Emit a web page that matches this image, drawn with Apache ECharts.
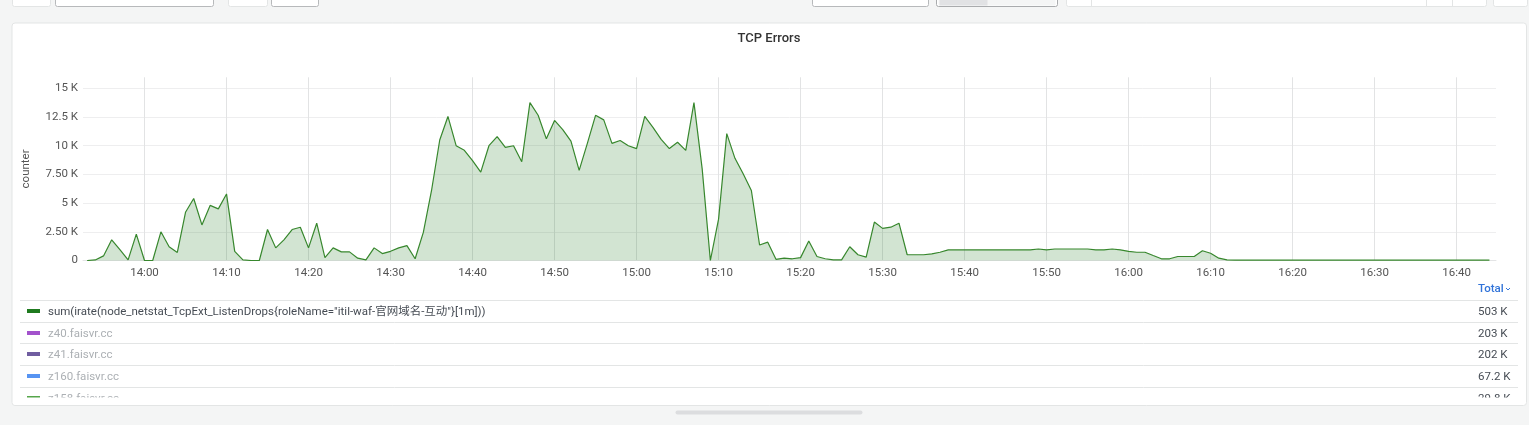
<!DOCTYPE html>
<html>
<head>
<meta charset="utf-8">
<style>html,body{margin:0;padding:0;background:#f4f5f5;overflow:hidden}#c{width:1529px;height:425px}</style>
<script src="https://cdn.jsdelivr.net/npm/echarts@6/dist/echarts.min.js"></script>
</head>
<body>
<div id="c"></div>
<script>
const startMinute = 13*60+53;
const values = [
  0,50,400,1800,950,50,2300,0,0,2500,1200,700,4200,5400,3100,4800,4500,5800,800,50,0,0,
  2700,1100,1800,2700,2900,1100,3250,250,1100,750,750,200,50,1100,600,800,1100,1300,150,
  2450,6100,10500,12550,10000,9600,8700,7700,10000,10800,9850,10000,8600,13750,12650,10600,
  12200,11400,10400,7850,10200,12650,12250,10200,10450,10000,9750,12550,11600,10550,9750,
  10300,9600,13750,8000,0,3600,11050,8900,7550,6100,1350,1600,100,200,150,250,1700,350,150,
  50,50,1200,500,300,3350,2800,2900,3250,500,500,500,580,720,920,920,920,920,920,920,920,
  920,920,930,930,1000,930,1000,1000,1000,1000,1000,930,930,1000,930,800,720,720,
  430,150,150,350,350,350,850,630,200,50,30,30,30,30,30,30,30,30,30,30,30,30,30,30,30,30,
  30,30,30,30,30,30,30,30,30,30,30,30,30,30,30,30
];
const xTickLabels = ['14:00','14:10','14:20','14:30','14:40','14:50','15:00','15:10','15:20','15:30','15:40','15:50','16:00','16:10','16:20','16:30','16:40'];
const yTickLabels = {0:'0',2500:'2.50 K',5000:'5 K',7500:'7.50 K',10000:'10 K',12500:'12.5 K',15000:'15 K'};
const legendNames = ['sum(irate(node_netstat_TcpExt_ListenDrops{roleName="itil-waf-官网域名-互动"}[1m]))','z40.faisvr.cc','z41.faisvr.cc','z160.faisvr.cc','z158.faisvr.cc'];
const legendTotals = ['503 K','203 K','202 K','67.2 K','29.8 K'];
const legendColors = ['#1f7a1f','#a352cc','#705da0','#5794f2','#56a64b'];
const legendText = ['#464c54','#acb0b4','#acb0b4','#acb0b4','#acb0b4'];

const FONT = 'Roboto, "Noto Sans CJK SC", sans-serif';
const rowLines = [300.5,322.5,343.5,365.5,387.5];
const rowCenters = [311,333,354,376,398];
const xTicks = xTickLabels.map(s=>{const p=s.split(':');return (+p[0])*60+(+p[1]);});

const graphic = [];
function box(x,y,w,h,fill,stroke,z,r){
  graphic.push({type:'rect',silent:true,z:z||0,shape:{x:x+.5,y:y+.5,width:w,height:h,r:r||0},style:{fill:fill,stroke:stroke||null,lineWidth:1}});
}
[[12,-4,38,10,'#e3e5e5'],[55,-4,158,10,'#b7b9bb'],[228,-4,39,10,'#e3e5e5'],[271,-4,47,10,'#b7b9bb'],[812,-4,116,10,'#b7b9bb'],[936,-4,121,10,'#a9abad'],[1066,-4,420,10,'#e3e5e5'],[1493,-4,34,10,'#e3e5e5']]
  .forEach(b=>box(b[0],b[1],b[2],b[3],'#fff',b[4],0,2));
box(938,-2,117,7,'#f4f5f5',null,1);
box(939,-2,48,7,'#e1e2e4',null,2);
[1091,1426,1452].forEach(x=>graphic.push({type:'line',silent:true,z:1,shape:{x1:x+.5,y1:0,x2:x+.5,y2:6},style:{stroke:'#e3e5e5',lineWidth:1}}));
box(11.5,22.5,1514.5,382.5,'#fff','#e3e5e5',0,3);
box(675,410,187,4,'#dcdddf',null,0,2);

legendNames.forEach((n,i)=>{
  graphic.push({type:'line',silent:true,z:5,shape:{x1:20,y1:rowLines[i],x2:1518,y2:rowLines[i]},style:{stroke:'#e3e5e5',lineWidth:1}});
  graphic.push({type:'rect',silent:true,z:5,shape:{x:27,y:rowCenters[i]-2,width:13,height:4},style:{fill:legendColors[i]}});
  graphic.push({type:'text',silent:true,z:5,x:48,y:rowCenters[i]+1,style:{text:n,fill:legendText[i],font:'11.5px '+FONT,textVerticalAlign:'middle'}});
  graphic.push({type:'text',silent:true,z:5,x:1478,y:rowCenters[i]+1,style:{text:legendTotals[i],fill:'#464c54',font:'11.5px '+FONT,textVerticalAlign:'middle'}});
});
graphic.push({type:'rect',silent:true,z:6,shape:{x:14,y:397.5,width:1510,height:7},style:{fill:'#fff'}});
graphic.push({type:'text',silent:true,z:5,x:1478,y:289,style:{text:'Total',fill:'#3274d9',font:'500 11.5px '+FONT,textVerticalAlign:'middle'}});
graphic.push({type:'polyline',silent:true,z:5,shape:{points:[[1506,288],[1508,290],[1510,288]]},style:{stroke:'#3274d9',lineWidth:1,fill:null}});

const chart = echarts.init(document.getElementById('c'),null,{renderer:'canvas'});
const pad = n=>String(n).padStart(2,'0');
chart.setOption({
  animation:false,
  backgroundColor:'transparent',
  textStyle:{fontFamily:FONT},
  title:{text:'TCP Errors',left:764,top:27,textAlign:'center',textStyle:{fontFamily:FONT,fontSize:13,fontWeight:500,color:'#333'}},
  grid:{left:83,top:77.3,width:1413,height:183.2,containLabel:false},
  xAxis:{
    type:'value',
    min:startMinute-0.5,
    max:startMinute+171.8,
    axisLine:{show:true,onZero:false,lineStyle:{color:'#e3e4e5',width:1}},
    axisTick:{show:false,customValues:xTicks},
    axisLabel:{customValues:xTicks,color:'#555',fontSize:11.5,fontFamily:FONT,margin:7,hideOverlap:false,
      formatter:v=>pad(Math.floor(v/60))+':'+pad(v%60)},
    splitLine:{show:true,lineStyle:{color:'#e2e3e4',width:1}}
  },
  yAxis:{
    type:'value',min:0,max:15960,interval:2500,
    name:'counter',nameLocation:'middle',nameGap:51,nameRotate:90,
    nameTextStyle:{color:'#555',fontSize:11.5,fontFamily:FONT},
    axisLine:{show:false},axisTick:{show:false},
    axisLabel:{color:'#555',fontSize:11.5,fontFamily:FONT,margin:5,showMaxLabel:false,formatter:v=>yTickLabels[v]||''},
    splitLine:{show:true,showMaxLine:false,lineStyle:{color:'#eeeeef',width:1}}
  },
  series:[{
    type:'line',showSymbol:false,smooth:false,
    data:values.map((v,i)=>[startMinute+i,v]),
    lineStyle:{color:'#37872d',width:1.2},
    itemStyle:{color:'#37872d'},
    areaStyle:{color:'#1f7a1f',opacity:0.2}
  }],
  graphic:graphic
});
</script>
</body>
</html>
